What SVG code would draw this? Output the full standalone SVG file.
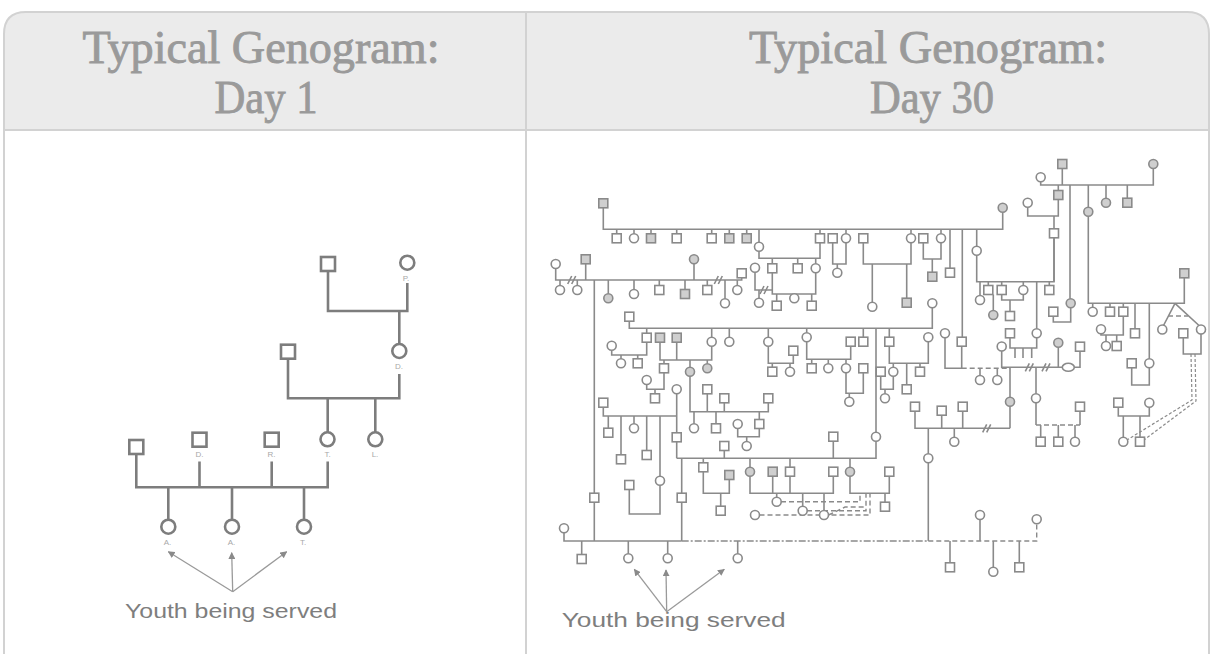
<svg xmlns="http://www.w3.org/2000/svg" xmlns:xlink="http://www.w3.org/1999/xlink" width="1213" height="654" viewBox="0 0 1213 654">
<style>
.hd{font-family:"Liberation Serif",serif;font-size:47px;fill:#9a9a9a;stroke:#9a9a9a;stroke-width:0.9;text-anchor:middle}
.yt{font-family:"Liberation Sans",sans-serif;font-size:20px;fill:#7e7e7e}
.lb{font-family:"Liberation Sans",sans-serif;font-size:8px;fill:#a8a8a8;text-anchor:middle}
.Ll{fill:none;stroke:#7d7d7d;stroke-width:2.6}
.L{fill:#fff;stroke:#7d7d7d;stroke-width:2.6}
.ln{fill:none;stroke:#8a8a8a;stroke-width:1.6}
.dl{fill:none;stroke:#8a8a8a;stroke-width:1.4;stroke-dasharray:5 3}
.dd{fill:none;stroke:#8a8a8a;stroke-width:1.4;stroke-dasharray:7 2 2 2}
.r{fill:#fff;stroke:#8a8a8a;stroke-width:1.6}
.f{fill:#cfcfcf;stroke:#8a8a8a;stroke-width:1.6}
.ar{fill:none;stroke:#9a9a9a;stroke-width:1.3}
</style>
<defs>
<rect id="s" x="-4.5" y="-4.5" width="9" height="9"/>
<circle id="c" r="4.5"/>
<rect id="S" x="-7" y="-7" width="14" height="14"/>
<circle id="C" r="7"/>
<marker id="ah" viewBox="0 0 10 10" refX="9" refY="5" markerWidth="7" markerHeight="7" orient="auto-start-reverse" markerUnits="userSpaceOnUse">
<path d="M0 0 L10 5 L0 10 Z" fill="#8a8a8a"/>
</marker>
</defs>
<rect x="0" y="0" width="1213" height="654" fill="#fff"/>
<g id="frame">
<path d="M4 130 V34 Q4 12 26 12 H1187 Q1209 12 1209 34 V130 Z" fill="#ebebeb"/>
<path d="M4 680 V34 Q4 12 26 12 H1187 Q1209 12 1209 34 V680" fill="none" stroke="#d2d2d2" stroke-width="2"/>
<line x1="4" y1="130" x2="1209" y2="130" stroke="#d2d2d2" stroke-width="2"/>
<line x1="526" y1="12" x2="526" y2="654" stroke="#d2d2d2" stroke-width="2"/>
</g>
<g id="titles">
<text class="hd" x="261" y="63" textLength="357" lengthAdjust="spacingAndGlyphs">Typical Genogram:</text>
<text class="hd" x="266" y="113" textLength="103" lengthAdjust="spacingAndGlyphs">Day 1</text>
<text class="hd" x="928" y="63" textLength="358" lengthAdjust="spacingAndGlyphs">Typical Genogram:</text>
<text class="hd" x="932" y="113" textLength="124" lengthAdjust="spacingAndGlyphs">Day 30</text>
</g>
<g id="left-connectors">
<path class="Ll" d="M328 271 V311 H407.3 V283 M399.3 311 V344 M288 358.7 V398.3 H399.3 V374 M327.7 398.3 V432.3 M375.3 398.3 V432.3 M136.3 454 V487.3 H327.7 V461.5 M199.5 461.5 V487.3 M271.7 461.5 V487.3 M168.3 487.3 V519.7 M232 487.3 V519.7 M304 487.3 V519.7"/>
<path class="ar" marker-end="url(#ah)" d="M232.7 591.7 L168.3 551.7"/>
<path class="ar" marker-end="url(#ah)" d="M232.7 591.7 L231.7 552.7"/>
<path class="ar" marker-end="url(#ah)" d="M232.7 591.7 L286.7 551.7"/>
</g>
<g id="left-nodes">
<g id="L1"><use href="#S" class="L" x="328" y="264"/></g>
<g id="L2"><use href="#C" class="L" x="407.3" y="262.7"/><text class="lb" x="406" y="281">P.</text></g>
<g id="L3"><use href="#S" class="L" x="288" y="351.7"/></g>
<g id="L4"><use href="#C" class="L" x="399.3" y="351"/><text class="lb" x="399" y="369">D.</text></g>
<g id="L5"><use href="#C" class="L" x="327.5" y="439.3"/><text class="lb" x="327.5" y="457">T.</text></g>
<g id="L6"><use href="#C" class="L" x="375.3" y="439.3"/><text class="lb" x="375" y="457">L.</text></g>
<g id="L7"><use href="#S" class="L" x="136.3" y="447"/></g>
<g id="L8"><use href="#S" class="L" x="199.5" y="439.7"/><text class="lb" x="199.5" y="457">D.</text></g>
<g id="L9"><use href="#S" class="L" x="271.7" y="439.7"/><text class="lb" x="271.5" y="457">R.</text></g>
<g id="L10"><use href="#C" class="L" x="168.3" y="526.7"/><text class="lb" x="167.5" y="545">A.</text></g>
<g id="L11"><use href="#C" class="L" x="232" y="526.7"/><text class="lb" x="231.5" y="545">A.</text></g>
<g id="L12"><use href="#C" class="L" x="304" y="526.7"/><text class="lb" x="303" y="545">T.</text></g>
<text class="yt" x="125" y="618" textLength="212" lengthAdjust="spacingAndGlyphs">Youth being served</text>
</g>
<g id="right-connectors">
<path class="ln" d="M603.3 208 V229.3 H1002.7 V212.2 M616.7 229.3 V233.8 M634 229.3 V233.8 M651 229.3 V233.8 M676.7 229.3 V233.8 M711.7 229.3 V233.8 M729.3 229.3 V233.8 M746.7 229.3 V233.8 M759 229.3 V242.2 M820 229.3 V233.8 M846 229.3 V233.8 M911 229.3 V233.8 M941 229.3 V233.8 M950 229.3 V268.2 M962.3 229.3 V337.2 M976.7 229.3 V246.2"/>
<path class="ln" d="M759 251.2 V258.3 H820 V242.8 M772.3 258.3 V263.8 M797.7 258.3 V263.8 M815.7 258.3 V263.8 M772.3 272.8 V294 H815.7 V272.8 M776.7 294 V301.2 M811.7 294 V301.2 M755 272.2 V290 H772.3 M759 290 V298.2"/>
<path class="ln" d="M832.7 242.8 V264 H846 V242.8 M837.3 264 V268.2 M863.3 242.8 V264 H911 V242.8 M872.3 264 V302.2 M906.7 264 V298.2 M923.3 242.8 V259 H941 V242.8 M932.3 259 V272.2 M976.7 255.2 V281.7 H1054 V237.8"/>
<path class="ln" d="M555.7 268.5 V280 H741.7 V277.8 M585.7 263.8 V280 M694 263.8 V280 M560 280 V285.5 M577.3 280 V285.5 M608.3 280 V293.8 M634 280 V289.5 M659.3 280 V285.5 M685 280 V289.5 M707.3 280 V285.5 M725 280 V298.8 M737.3 280 V285.5 M594.3 280 V541"/>
<path class="ln" d="M629.3 321.2 V328.3 H932.3 V307.8 M646.7 328.3 V333.2 M711.7 328.3 V337.2 M729.3 328.3 V337.2 M768.3 328.3 V337.2 M806.7 328.3 V332.8 M863.3 328.3 V337.2 M876 328.3 V432.2 M889.3 328.3 V337.2"/>
<path class="ln" d="M611.7 350.2 V355 H646.7 V342.2 M621 355 V358.8 M637.7 355 V358.8 M660 342.2 V360 H711.7 V346.2 M676.7 342.2 V360 M664 360 V363.8 M690 360 V367.2 M707.3 360 V363.8 M646.7 384.5 V389.3 H664 V372.8 M655 389.3 V393.8 M676.7 393.8 V458.3 M603.3 407.2 V416 H676.7 M608.3 416 V428.2 M621 416 V454.8 M634 416 V423.8 M646.7 416 V450.5 M660 416 V476.2"/>
<path class="ln" d="M690 376.2 V411.7 H768.3 V402.8 M707.3 393.8 V411.7 M724.3 402.8 V411.7 M694 411.7 V423.8 M716 411.7 V423.8 M759.3 411.7 V419.5 M737.7 428.5 V436.7 H759.3 V428.5 M746.7 436.7 V441.5 M724.3 450.5 V458.3 M676.7 458.3 H876 V441.2 M833.3 441.2 V458.3 M703.3 458.3 V462.8 M750 458.3 V467.2 M790 458.3 V467.2 M850 458.3 V467.2"/>
<path class="ln" d="M703.3 471.8 V493.3 H729.3 V479.5 M720.7 493.3 V506.2 M750 476.2 V493.3 H833.3 V476.2 M772.7 476.2 V493.3 M790 476.2 V493.3 M776.7 493.3 V497.2 M802.7 493.3 V506.2 M824 493.3 V510.5 M850 476.2 V493.3 H889.3 V476.2 M885 493.3 V502.2"/>
<path class="dl" d="M759.5 515 H870 V493.3 M781 501.7 H860 V493.3 M807 510.7 H866 V493.3 M828.5 515 L845 507 H864"/>
<path class="ln" d="M793.3 355.2 V363.3 H768.3 V346.2 M772.3 363.3 V367.2 M790 363.3 V367.2 M850.7 346.2 V359.3 H806.7 V341.8 M811.7 359.3 V363.8 M828.3 359.3 V363.8 M846 359.3 V363.8 M846 372.8 V393.3 H863.3 V372.8 M849.3 393.3 V397.2 M880.7 376.2 V389.3 H893.3 V376.2 M885 389.3 V393.8 M928.3 341.8 V363.3 H889.3 V346.2 M893.3 363.3 V367.2 M906.7 363.3 V384.8 M920 363.3 V367.2"/>
<path class="ln" d="M564 532.8 V541 H681.7 M681.7 458.3 V541 M928.3 428.3 V453.8 M928.3 462.8 V541 M581.7 541 V554.5 M628.3 541 V553.8 M667.7 541 V553.8 M737.7 541 V553.8 M950 541 V562.8 M993.3 541 V567.2 M1019.3 541 V562.8 M629.3 489.5 V514 H660 V485.2 M980 519.5 V541"/>
<path class="dd" d="M681.7 541 H928.3"/>
<path class="dl" d="M928.3 541 H1036.7 V523.8"/>
<path class="ln" d="M915 411.2 V428.3 H1010 M941.7 415.2 V428.3 M962.7 411.2 V428.3 M1010 367.3 V397.2 M1010 406.2 V428.3 M954.3 428.3 V437.2"/>
<path class="ln" d="M945 337.8 V368.3 H961.7 V346.2 M980 368.3 V375.5 M997.3 368.3 V375.5 M1001.7 351 V367.3 H1080 V351.2 M1058.3 347.2 V367.3 M1036 367.3 V393.8 M1036 402.8 V425 M1080 411.2 V425 M1040.7 425 V437.2 M1058.3 425 V437.2 M1075 425 V437.2 M1010 337.8 V348 H1036.7 V337.8 M1015 348 V358 M1023 348 V358 M1031.7 348 V358 M1036.7 281.7 V328.8"/>
<path class="dl" d="M961.7 368.3 H1010 M1036 425 H1080"/>
<path class="ln" d="M980 281.7 V295.5 M988.3 281.7 V285.5 M1001.7 281.7 V285.5 M1023.3 281.7 V285.5 M1049.3 281.7 V285.5 M993.3 294.5 V310.5 M1001.7 294.5 V300 H1023.3 V294.5 M1010 300 V311.5"/>
<path class="ln" d="M1040.7 181.8 V185 H1153.3 V168.5 M1062.3 168.5 V185 M1058.3 185 V190.5 M1070 185 V298.8 M1088.3 185 V207.2 M1088.3 216.2 V303.3 H1184.3 V277.8 M1106 185 V198.2 M1127.3 185 V198.2 M1027.7 207.2 V216 H1058.3 V199.5 M1054 216 V228.8 M1054 237.8 V281.7 M1053.3 316.2 V322 H1070.7 V307.8"/>
<path class="ln" d="M1092.7 303.3 V307.2 M1110 303.3 V307.2 M1123.3 303.3 V307.2 M1135 303.3 V328.8 M1149.3 303.3 V358.8 M1175 303.3 L1163.5 325.5 M1175 303.3 L1199 325.5 M1123.3 316.2 V335 H1101 V333.8 M1106 335 V341.5 M1116.7 335 V341.5 M1131.7 367.8 V385 H1149.3 V367.8 M1183.3 337.8 V354 H1201 V333.8 M1118.3 407.2 V416 H1149.3 V407.2 M1123.3 416 V437.2 M1140 416 V437.2"/>
<path class="dl" d="M1168 316 H1188"/>
<path fill="none" stroke="#8a8a8a" stroke-width="1.2" stroke-dasharray="3 2" d="M1191 354 L1192 400 L1127 440 M1195 354 L1196 401 L1144 440"/>
<path class="ln" d="M567.7 284 L571.7 276 M571.7 284 L575.7 276 M714.3 284 L718.3 276 M718.3 284 L722.3 276 M760 294 L764 286 M764 294 L768 286 M982.7 432.3 L986.7 424.3 M986.7 432.3 L990.7 424.3 M1025.3 371.3 L1029.3 363.3 M1029.3 371.3 L1033.3 363.3 M1042 371.3 L1046 363.3 M1046 371.3 L1050 363.3"/>
<path class="ar" marker-end="url(#ah)" d="M666.7 611.7 L634.3 569.3"/>
<path class="ar" marker-end="url(#ah)" d="M666.7 611.7 L666 570"/>
<path class="ar" marker-end="url(#ah)" d="M666.7 611.7 L724.3 569.3"/>
</g>
<g id="right-nodes">
<g id="n1"><use href="#s" class="f" x="603.3" y="203.3"/></g>
<g id="n2"><use href="#c" class="f" x="1002.7" y="207.7"/></g>
<g id="n3"><use href="#s" class="r" x="616.7" y="238.3"/></g>
<g id="n4"><use href="#c" class="r" x="634" y="238.3"/></g>
<g id="n5"><use href="#s" class="f" x="651" y="238.3"/></g>
<g id="n6"><use href="#s" class="r" x="676.7" y="238.3"/></g>
<g id="n7"><use href="#s" class="r" x="711.7" y="238.3"/></g>
<g id="n8"><use href="#s" class="f" x="729.3" y="238.3"/></g>
<g id="n9"><use href="#s" class="f" x="746.7" y="238.3"/></g>
<g id="n10"><use href="#c" class="r" x="759" y="246.7"/></g>
<g id="n11"><use href="#s" class="r" x="820" y="238.3"/></g>
<g id="n12"><use href="#s" class="r" x="772.3" y="268.3"/></g>
<g id="n13"><use href="#s" class="r" x="797.7" y="268.3"/></g>
<g id="n14"><use href="#c" class="r" x="815.7" y="268.3"/></g>
<g id="n15"><use href="#s" class="r" x="776.7" y="305.7"/></g>
<g id="n16"><use href="#c" class="r" x="794.3" y="298.3"/></g>
<g id="n17"><use href="#s" class="r" x="811.7" y="305.7"/></g>
<g id="n18"><use href="#c" class="r" x="755" y="267.7"/></g>
<g id="n19"><use href="#c" class="r" x="759" y="302.7"/></g>
<g id="n20"><use href="#s" class="r" x="832.7" y="238.3"/></g>
<g id="n21"><use href="#c" class="r" x="846" y="238.3"/></g>
<g id="n22"><use href="#c" class="r" x="837.3" y="272.7"/></g>
<g id="n23"><use href="#s" class="r" x="863.3" y="238.3"/></g>
<g id="n24"><use href="#c" class="r" x="911" y="238.3"/></g>
<g id="n25"><use href="#c" class="r" x="872.3" y="306.7"/></g>
<g id="n26"><use href="#s" class="f" x="906.7" y="302.7"/></g>
<g id="n27"><use href="#s" class="r" x="923.3" y="238.3"/></g>
<g id="n28"><use href="#c" class="r" x="941" y="238.3"/></g>
<g id="n29"><use href="#s" class="f" x="932.3" y="276.7"/></g>
<g id="n30"><use href="#s" class="r" x="950" y="272.7"/></g>
<g id="n31"><use href="#c" class="r" x="976.7" y="250.7"/></g>
<g id="n32"><use href="#c" class="r" x="555.7" y="264"/></g>
<g id="n33"><use href="#s" class="f" x="585.7" y="259.3"/></g>
<g id="n34"><use href="#c" class="f" x="694" y="259.3"/></g>
<g id="n35"><use href="#s" class="r" x="741.7" y="273.3"/></g>
<g id="n36"><use href="#c" class="r" x="560" y="290"/></g>
<g id="n37"><use href="#c" class="r" x="577.3" y="290"/></g>
<g id="n38"><use href="#c" class="f" x="608.3" y="298.3"/></g>
<g id="n39"><use href="#c" class="r" x="634" y="294"/></g>
<g id="n40"><use href="#s" class="r" x="659.3" y="290"/></g>
<g id="n41"><use href="#s" class="f" x="685" y="294"/></g>
<g id="n42"><use href="#s" class="r" x="707.3" y="290"/></g>
<g id="n43"><use href="#c" class="r" x="725" y="303.3"/></g>
<g id="n44"><use href="#c" class="r" x="737.3" y="290"/></g>
<g id="n45"><use href="#s" class="r" x="629.3" y="316.7"/></g>
<g id="n46"><use href="#c" class="r" x="932.3" y="303.3"/></g>
<g id="n47"><use href="#s" class="r" x="646.7" y="337.7"/></g>
<g id="n48"><use href="#s" class="f" x="660" y="337.7"/></g>
<g id="n49"><use href="#s" class="f" x="676.7" y="337.7"/></g>
<g id="n50"><use href="#c" class="r" x="711.7" y="341.7"/></g>
<g id="n51"><use href="#c" class="r" x="729.3" y="341.7"/></g>
<g id="n52"><use href="#c" class="r" x="768.3" y="341.7"/></g>
<g id="n53"><use href="#c" class="r" x="806.7" y="337.3"/></g>
<g id="n54"><use href="#s" class="r" x="863.3" y="341.7"/></g>
<g id="n55"><use href="#s" class="r" x="889.3" y="341.7"/></g>
<g id="n56"><use href="#c" class="r" x="611.7" y="345.7"/></g>
<g id="n57"><use href="#c" class="r" x="621" y="363.3"/></g>
<g id="n58"><use href="#s" class="r" x="637.7" y="363.3"/></g>
<g id="n59"><use href="#s" class="r" x="664" y="368.3"/></g>
<g id="n60"><use href="#c" class="f" x="690" y="371.7"/></g>
<g id="n61"><use href="#c" class="f" x="707.3" y="368.3"/></g>
<g id="n62"><use href="#c" class="r" x="646.7" y="380"/></g>
<g id="n63"><use href="#s" class="r" x="655" y="398.3"/></g>
<g id="n64"><use href="#c" class="r" x="676.7" y="389.3"/></g>
<g id="n65"><use href="#s" class="r" x="676.7" y="437.3"/></g>
<g id="n66"><use href="#s" class="r" x="603.3" y="402.7"/></g>
<g id="n67"><use href="#s" class="r" x="608.3" y="432.7"/></g>
<g id="n68"><use href="#s" class="r" x="621" y="459.3"/></g>
<g id="n69"><use href="#c" class="r" x="634" y="428.3"/></g>
<g id="n70"><use href="#s" class="r" x="646.7" y="455"/></g>
<g id="n71"><use href="#s" class="r" x="707.3" y="389.3"/></g>
<g id="n72"><use href="#s" class="r" x="724.3" y="398.3"/></g>
<g id="n73"><use href="#s" class="r" x="768.3" y="398.3"/></g>
<g id="n74"><use href="#c" class="r" x="694" y="428.3"/></g>
<g id="n75"><use href="#s" class="r" x="716" y="428.3"/></g>
<g id="n76"><use href="#c" class="r" x="737.7" y="424"/></g>
<g id="n77"><use href="#s" class="r" x="759.3" y="424"/></g>
<g id="n78"><use href="#c" class="r" x="746.7" y="446"/></g>
<g id="n79"><use href="#s" class="r" x="724.3" y="446"/></g>
<g id="n80"><use href="#s" class="r" x="793.3" y="350.7"/></g>
<g id="n81"><use href="#s" class="r" x="772.3" y="371.7"/></g>
<g id="n82"><use href="#c" class="r" x="790" y="371.7"/></g>
<g id="n83"><use href="#s" class="r" x="850.7" y="341.7"/></g>
<g id="n84"><use href="#s" class="r" x="811.7" y="368.3"/></g>
<g id="n85"><use href="#c" class="r" x="828.3" y="368.3"/></g>
<g id="n86"><use href="#c" class="r" x="846" y="368.3"/></g>
<g id="n87"><use href="#s" class="r" x="863.3" y="368.3"/></g>
<g id="n88"><use href="#c" class="r" x="849.3" y="401.7"/></g>
<g id="n89"><use href="#s" class="r" x="880.7" y="371.7"/></g>
<g id="n90"><use href="#c" class="r" x="893.3" y="371.7"/></g>
<g id="n91"><use href="#c" class="r" x="885" y="398.3"/></g>
<g id="n92"><use href="#c" class="r" x="928.3" y="337.3"/></g>
<g id="n93"><use href="#s" class="r" x="906.7" y="389.3"/></g>
<g id="n94"><use href="#s" class="r" x="920" y="371.7"/></g>
<g id="n95"><use href="#c" class="r" x="876" y="436.7"/></g>
<g id="n96"><use href="#s" class="r" x="833.3" y="436.7"/></g>
<g id="n97"><use href="#s" class="r" x="629.3" y="485"/></g>
<g id="n98"><use href="#c" class="r" x="660" y="480.7"/></g>
<g id="n99"><use href="#s" class="r" x="703.3" y="467.3"/></g>
<g id="n100"><use href="#s" class="f" x="729.3" y="475"/></g>
<g id="n101"><use href="#s" class="r" x="720.7" y="510.7"/></g>
<g id="n102"><use href="#c" class="f" x="750" y="471.7"/></g>
<g id="n103"><use href="#s" class="f" x="772.7" y="471.7"/></g>
<g id="n104"><use href="#s" class="r" x="790" y="471.7"/></g>
<g id="n105"><use href="#s" class="r" x="833.3" y="471.7"/></g>
<g id="n106"><use href="#c" class="f" x="850" y="471.7"/></g>
<g id="n107"><use href="#s" class="r" x="889.3" y="471.7"/></g>
<g id="n108"><use href="#s" class="r" x="885" y="506.7"/></g>
<g id="n109"><use href="#c" class="r" x="755" y="515"/></g>
<g id="n110"><use href="#c" class="r" x="776.7" y="501.7"/></g>
<g id="n111"><use href="#c" class="r" x="802.7" y="510.7"/></g>
<g id="n112"><use href="#c" class="r" x="824" y="515"/></g>
<g id="n113"><use href="#s" class="r" x="594.3" y="497.7"/></g>
<g id="n114"><use href="#s" class="r" x="681.7" y="497.7"/></g>
<g id="n115"><use href="#c" class="r" x="564" y="528.3"/></g>
<g id="n116"><use href="#s" class="r" x="581.7" y="559"/></g>
<g id="n117"><use href="#c" class="r" x="628.3" y="558.3"/></g>
<g id="n118"><use href="#c" class="r" x="667.7" y="558.3"/></g>
<g id="n119"><use href="#c" class="r" x="737.7" y="558.3"/></g>
<g id="n120"><use href="#c" class="r" x="928.3" y="458.3"/></g>
<g id="n121"><use href="#c" class="r" x="980" y="515"/></g>
<g id="n122"><use href="#c" class="r" x="1036.7" y="519.3"/></g>
<g id="n123"><use href="#s" class="r" x="950" y="567.3"/></g>
<g id="n124"><use href="#c" class="r" x="993.3" y="571.7"/></g>
<g id="n125"><use href="#s" class="r" x="1019.3" y="567.3"/></g>
<g id="n126"><use href="#s" class="r" x="915" y="406.7"/></g>
<g id="n127"><use href="#s" class="r" x="941.7" y="410.7"/></g>
<g id="n128"><use href="#s" class="r" x="962.7" y="406.7"/></g>
<g id="n129"><use href="#c" class="r" x="954.3" y="441.7"/></g>
<g id="n130"><use href="#c" class="f" x="1010" y="401.7"/></g>
<g id="n131"><use href="#c" class="r" x="945" y="333.3"/></g>
<g id="n132"><use href="#s" class="r" x="961.7" y="341.7"/></g>
<g id="n133"><use href="#c" class="r" x="980" y="380"/></g>
<g id="n134"><use href="#c" class="r" x="997.3" y="380"/></g>
<g id="n135"><use href="#c" class="r" x="1001.7" y="346.5"/></g>
<g id="n136"><use href="#c" class="f" x="1058.3" y="342.7"/></g>
<g id="n137"><use href="#s" class="r" x="1080" y="346.7"/></g>
<g id="n138"><ellipse class="r" cx="1068.3" cy="367.3" rx="6" ry="4"/></g>
<g id="n139"><use href="#c" class="r" x="1036" y="398.3"/></g>
<g id="n140"><use href="#s" class="r" x="1080" y="406.7"/></g>
<g id="n141"><use href="#s" class="r" x="1040.7" y="441.7"/></g>
<g id="n142"><use href="#s" class="r" x="1058.3" y="441.7"/></g>
<g id="n143"><use href="#c" class="r" x="1075" y="441.7"/></g>
<g id="n144"><use href="#s" class="r" x="1010" y="333.3"/></g>
<g id="n145"><use href="#c" class="r" x="1036.7" y="333.3"/></g>
<g id="n146"><use href="#c" class="r" x="980" y="300"/></g>
<g id="n147"><use href="#c" class="f" x="993.3" y="315"/></g>
<g id="n148"><use href="#s" class="r" x="1001.7" y="290"/></g>
<g id="n149"><use href="#c" class="r" x="1023.3" y="290"/></g>
<g id="n150"><use href="#s" class="r" x="1049.3" y="290"/></g>
<g id="n151"><use href="#s" class="r" x="1010" y="316"/></g>
<g id="n152"><use href="#s" class="f" x="1062.3" y="164"/></g>
<g id="n153"><use href="#c" class="f" x="1153.3" y="164"/></g>
<g id="n154"><use href="#c" class="r" x="1040.7" y="177.3"/></g>
<g id="n155"><use href="#s" class="f" x="1058.3" y="195"/></g>
<g id="n156"><use href="#c" class="f" x="1088.3" y="211.7"/></g>
<g id="n157"><use href="#c" class="f" x="1106" y="202.7"/></g>
<g id="n158"><use href="#s" class="f" x="1127.3" y="202.7"/></g>
<g id="n159"><use href="#c" class="r" x="1027.7" y="202.7"/></g>
<g id="n160"><use href="#s" class="r" x="1054" y="233.3"/></g>
<g id="n161"><use href="#c" class="f" x="1070.7" y="303.3"/></g>
<g id="n162"><use href="#s" class="r" x="1053.3" y="311.7"/></g>
<g id="n163"><use href="#s" class="f" x="1184.3" y="273.3"/></g>
<g id="n164"><use href="#c" class="r" x="1092.7" y="311.7"/></g>
<g id="n165"><use href="#s" class="r" x="1110" y="311.7"/></g>
<g id="n166"><use href="#s" class="r" x="1123.3" y="311.7"/></g>
<g id="n167"><use href="#s" class="r" x="1135" y="333.3"/></g>
<g id="n168"><use href="#c" class="r" x="1162.3" y="329.5"/></g>
<g id="n169"><use href="#c" class="r" x="1201" y="329.5"/></g>
<g id="n170"><use href="#s" class="r" x="1183.3" y="333.3"/></g>
<g id="n171"><use href="#c" class="r" x="1101" y="329.3"/></g>
<g id="n172"><use href="#c" class="r" x="1106" y="346"/></g>
<g id="n173"><use href="#s" class="r" x="1116.7" y="346"/></g>
<g id="n174"><use href="#s" class="r" x="1131.7" y="363.3"/></g>
<g id="n175"><use href="#c" class="r" x="1149.3" y="363.3"/></g>
<g id="n176"><use href="#s" class="r" x="1118.3" y="402.7"/></g>
<g id="n177"><use href="#c" class="r" x="1149.3" y="402.7"/></g>
<g id="n178"><use href="#c" class="r" x="1123.3" y="441.7"/></g>
<g id="n179"><use href="#s" class="r" x="1140" y="441.7"/></g>
<g id="n180"><use href="#s" class="r" x="988.3" y="290"/></g>
<text class="yt" x="561.7" y="626.7" font-size="21" textLength="224" lengthAdjust="spacingAndGlyphs">Youth being served</text>
</g>
</svg>
